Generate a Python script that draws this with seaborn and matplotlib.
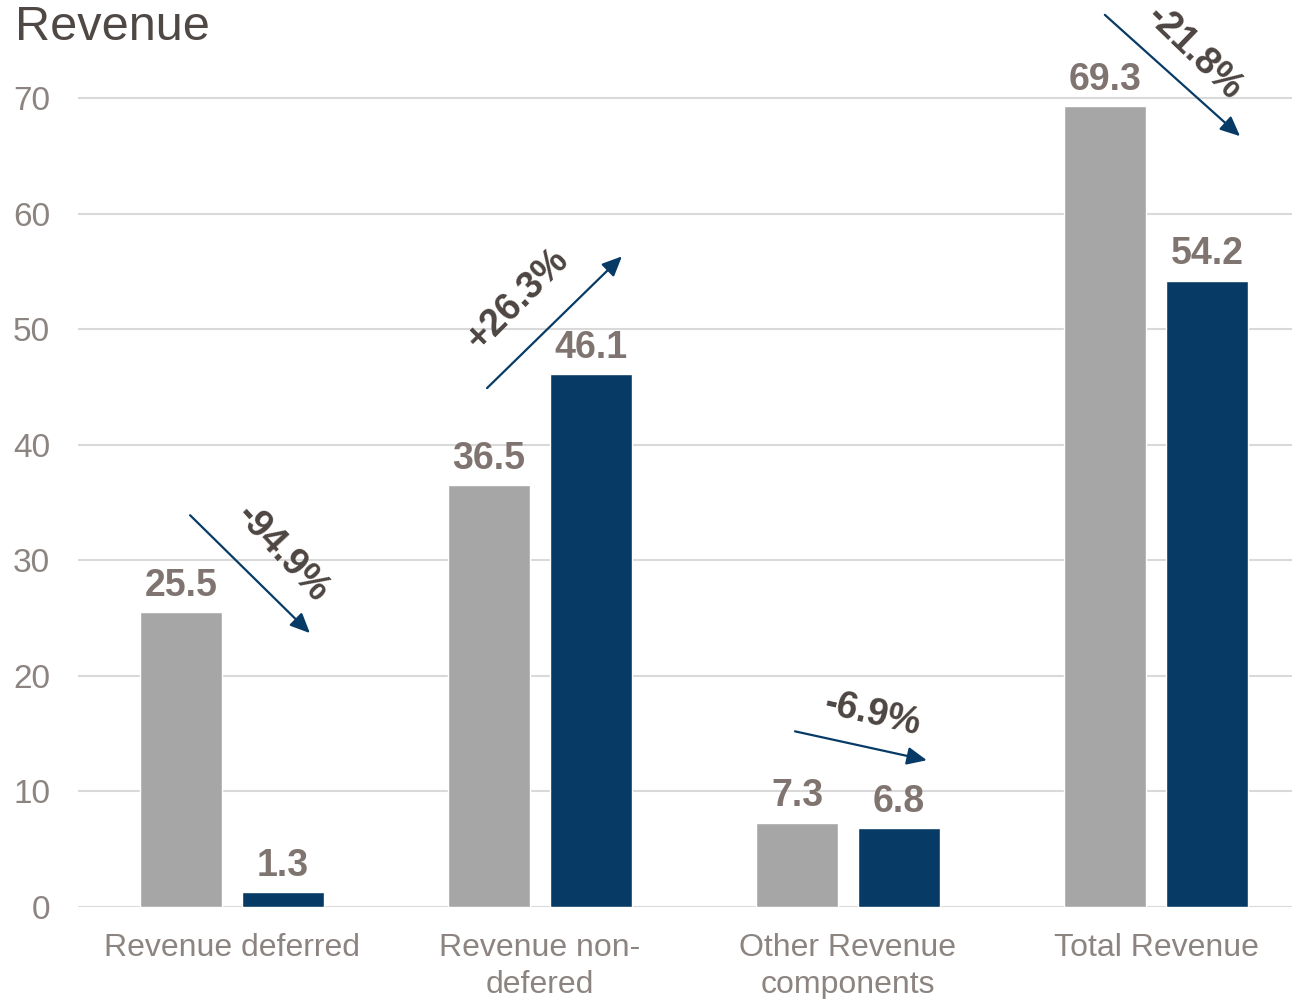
import matplotlib
matplotlib.use("Agg")
import matplotlib.pyplot as plt
import seaborn as sns
import pandas as pd

# --- data -------------------------------------------------------------
categories = ["Revenue deferred", "Revenue non-\ndefered",
              "Other Revenue\ncomponents", "Total Revenue"]
previous = [25.5, 36.5, 7.3, 69.3]
current = [1.3, 46.1, 6.8, 54.2]
changes = ["-94.9%", "+26.3%", "-6.9%", "-21.8%"]
y_ticks = [0, 10, 20, 30, 40, 50, 60, 70]

# change-arrow geometry (start, end, label position, rotation) per category
arrow_start = [(-0.136, 33.9), (0.828, 44.9), (1.828, 15.2), (2.834, 77.2)]
arrow_end = [(0.253, 23.7), (1.266, 56.3), (2.256, 12.7), (3.273, 66.7)]
label_pos = [(0.162, 30.6), (0.928, 52.6), (2.08, 16.7), (3.125, 73.9)]
label_rot = [-47, 45, -13, -44]

GRAY = "#A6A6A6"
NAVY = "#073B66"
VALUE_COLOR = "#7F7470"
CHANGE_COLOR = "#4D4542"
TICK_COLOR = "#8C8480"
TITLE_COLOR = "#4F4844"

df = pd.DataFrame({
    "category": categories * 2,
    "value": previous + current,
    "period": ["previous"] * len(categories) + ["current"] * len(categories),
})

sns.set_theme(style="white")
plt.rcParams["font.family"] = ["Liberation Sans", "DejaVu Sans"]

fig = plt.figure(figsize=(12.92, 9.99), dpi=100)
ax = fig.add_axes([78 / 1292, 92 / 999, 1213.5 / 1292, 901.4 / 999])

sns.barplot(data=df, x="category", y="value", hue="period",
            order=categories, hue_order=["previous", "current"],
            palette=[GRAY, NAVY], width=0.662, gap=0.197,
            saturation=1, legend=False, ax=ax, errorbar=None)

ax.set_xlim(-0.5, 3.44)
ax.set_ylim(0, 78)
ax.set_yticks(y_ticks)
ax.set_xlabel("")
ax.set_ylabel("")
ax.grid(axis="y", color="#D9D9D9", linewidth=1.5)
ax.set_axisbelow(True)
for s in ax.spines.values():
    s.set_visible(False)

ax.tick_params(axis="y", labelsize=24, labelcolor=TICK_COLOR, length=0, pad=20)
ax.tick_params(axis="x", labelsize=23, labelcolor=TICK_COLOR, length=0, pad=19)
for lbl in ax.get_xticklabels():
    lbl.set_linespacing(1.3)

# value labels above each bar
for container in ax.containers:
    ax.bar_label(container, fmt="%.1f", padding=6, fontsize=27,
                 fontweight="bold", color=VALUE_COLOR)

# change arrows with percentage labels
for s, e, p, r, txt in zip(arrow_start, arrow_end, label_pos, label_rot, changes):
    ax.annotate("", xy=e, xytext=s,
                arrowprops=dict(arrowstyle="-|>,head_length=1.0,head_width=0.45",
                                color=NAVY, lw=1.6, shrinkA=0, shrinkB=0))
    ax.text(p[0], p[1], txt, rotation=r, rotation_mode="anchor",
            ha="center", va="center", fontsize=27, fontweight="bold",
            color=CHANGE_COLOR)

fig.text(15 / 1292, 1 - 27 / 999, "Revenue", fontsize=35, color=TITLE_COLOR,
         ha="left", va="center")

fig.savefig("out.png", dpi=100)
